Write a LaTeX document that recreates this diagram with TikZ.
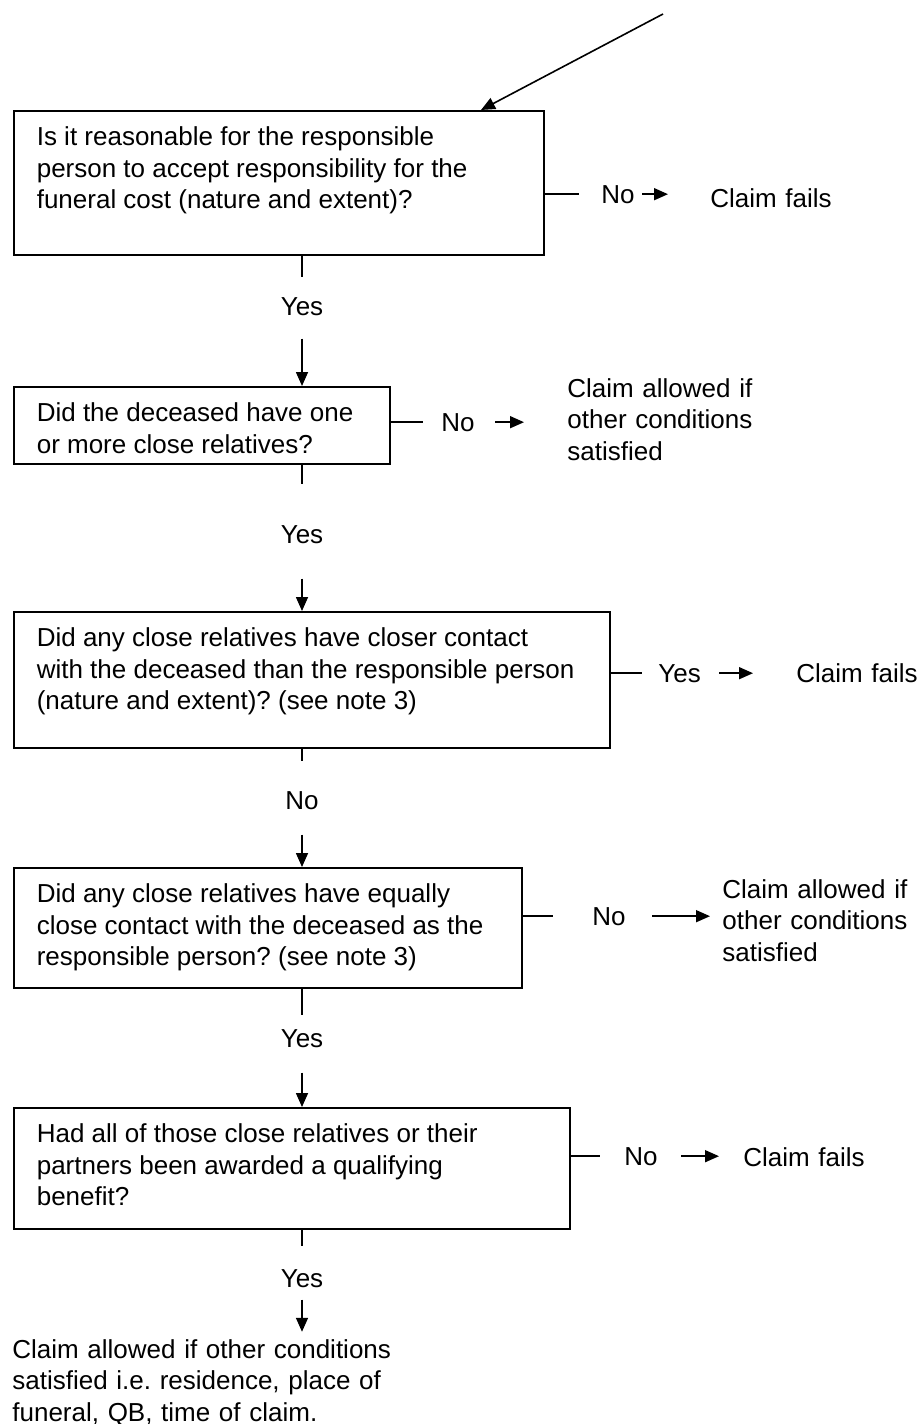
\documentclass[tikz,border=0pt]{standalone}
\usepackage{fontspec}
\setmainfont{Liberation Sans}
\usetikzlibrary{arrows.meta,calc}
\frenchspacing

\newcommand{\qtext}[3]{\parbox[t][#2][t]{#1}{\strut #3}}

\begin{document}
\begin{tikzpicture}[x=0.5pt, y=-0.5pt,
  every node/.style={font=\fontsize{13pt}{15.75pt}\selectfont},
  questionBox/.style={draw, line width=0.8pt, anchor=north west, inner xsep=11.5pt, inner ysep=6.5pt},
  labelStyle/.style={inner sep=0pt, anchor=base},
  answerStyle/.style={inner sep=0pt, anchor=base west},
  outcomeStyle/.style={inner sep=0pt, anchor=base west, text width=105pt, align=left},
  lineStyle/.style={line width=0.8pt},
  arrowStyle/.style={line width=0.8pt, -{Triangle[length=7pt,width=6pt]}}
]
\useasboundingbox (0,0) rectangle (924,1424);

\node [questionBox] (q1) at (13, 110)  {\qtext{242pt}{59pt}{Is it reasonable for the responsible\\person to accept responsibility for the\\funeral cost (nature and extent)?}};
\node [questionBox] (q2) at (13, 386)  {\qtext{165pt}{25.5pt}{Did the deceased have one\\or more close relatives?}};
\node [questionBox] (q3) at (13, 611)  {\qtext{275pt}{55pt}{Did any close relatives have closer contact\\with the deceased than the responsible person\\(nature and extent)? (see note 3)}};
\node [questionBox] (q4) at (13, 867)  {\qtext{231pt}{47pt}{Did any close relatives have equally\\close contact with the deceased as the\\responsible person? (see note 3)}};
\node [questionBox] (q5) at (13, 1107) {\qtext{255pt}{47.5pt}{Had all of those close relatives or their\\partners been awarded a qualifying\\benefit?}};

\node [labelStyle] (y1) at (302, 315)  {Yes};
\node [labelStyle] (y2) at (302, 543)  {Yes};
\node [labelStyle] (y3) at (302, 809)  {No};
\node [labelStyle] (y4) at (302, 1047) {Yes};
\node [labelStyle] (y5) at (302, 1287) {Yes};

\node [answerStyle] (n1) at (601, 203)  {No};
\node [answerStyle] (n2) at (441, 431)  {No};
\node [answerStyle] (n3) at (658, 682)  {Yes};
\node [answerStyle] (n4) at (592, 925)  {No};
\node [answerStyle] (n5) at (624, 1165) {No};

\node [outcomeStyle] (o1) at (710, 207)  {Claim fails};
\node [outcomeStyle] (o2) at (567, 397)  {Claim allowed if\\other conditions\\satisfied};
\node [outcomeStyle] (o3) at (796, 682)  {Claim fails};
\node [outcomeStyle] (o4) at (722, 898)  {Claim allowed if\\other conditions\\satisfied};
\node [outcomeStyle] (o5) at (743, 1166) {Claim fails};
\node [outcomeStyle, text width=200pt] (o6) at (12, 1358) {Claim allowed if other conditions\\satisfied i.e. residence, place of\\funeral, QB, time of claim.};

\coordinate (entry) at (663, 14);
\draw [arrowStyle] (entry) -- ($(q1.north west)+(234pt,0)$);

\draw [lineStyle, shorten >=10pt] (q1.south -| y1) -- (y1.north);
\draw [arrowStyle, shorten <=11.5pt] (y1.south) -- (q2.north -| y1);
\draw [lineStyle, shorten >=20.5pt] (q2.south -| y2) -- (y2.north);
\draw [arrowStyle, shorten <=17.5pt] (y2.south) -- (q3.north -| y2);
\draw [lineStyle, shorten >=15pt] (q3.south -| y3) -- (y3.north);
\draw [arrowStyle, shorten <=12.5pt] (y3.south) -- (q4.north -| y3);
\draw [lineStyle, shorten >=7pt] (q4.south -| y4) -- (y4.north);
\draw [arrowStyle, shorten <=12.5pt] (y4.south) -- (q5.north -| y4);
\draw [lineStyle, shorten >=11.5pt] (q5.south -| y5) -- (y5.north);
\draw [arrowStyle, shorten <=6pt, shorten >=3.5pt] (y5.south) -- (o6.north -| y5);

\draw [lineStyle, shorten >=11pt] (n1.west -| q1.east) -- (n1.west);
\draw [arrowStyle, shorten <=3.5pt, shorten >=21pt] (n1.east) -- (o1.west |- n1.east);
\draw [lineStyle, shorten >=9pt] (n2.west -| q2.east) -- (n2.west);
\draw [arrowStyle, shorten <=10pt, shorten >=21.5pt] (n2.east) -- (o2.west |- n2.east);
\draw [lineStyle, shorten >=8pt] (n3.west -| q3.east) -- (n3.west);
\draw [arrowStyle, shorten <=9pt, shorten >=21.5pt] (n3.east) -- (o3.west |- n3.east);
\draw [lineStyle, shorten >=19.5pt] (n4.west -| q4.east) -- (n4.west);
\draw [arrowStyle, shorten <=13pt, shorten >=6pt] (n4.east) -- (o4.west |- n4.east);
\draw [lineStyle, shorten >=12pt] (n5.west -| q5.east) -- (n5.west);
\draw [arrowStyle, shorten <=11.5pt, shorten >=12pt] (n5.east) -- (o5.west |- n5.east);
\end{tikzpicture}
\end{document}
